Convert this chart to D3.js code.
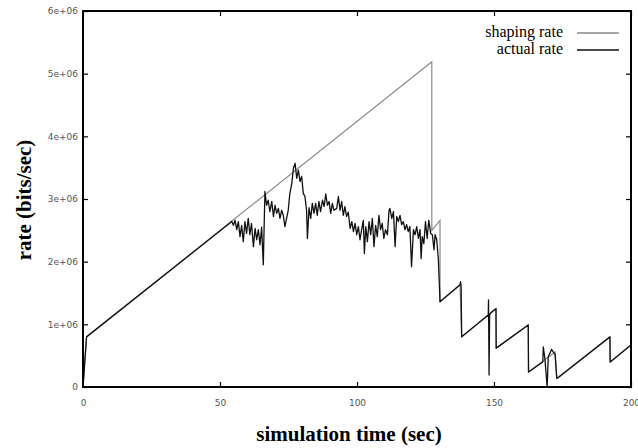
<!DOCTYPE html>
<html>
<head>
<meta charset="utf-8">
<script src="https://cdn.jsdelivr.net/npm/d3@7"></script>
<style>
  body { margin: 0; background: #fff; }
  svg { display: block; }
</style>
</head>
<body>
<div id="chart"></div>
<script>
// tick values and labels
const xTicks = [0, 50, 100, 150, 200];
const xTickLabels = ["0", "50", "100", "150", "200"];
const yTicks = [0, 1e6, 2e6, 3e6, 4e6, 5e6, 6e6];
const yTickLabels = ["0", "1e+06", "2e+06", "3e+06", "4e+06", "5e+06", "6e+06"];

// shaping rate (time in sec, rate in Mbit/s)
const shapingTime = [0, 1.3, 127.3, 127.3, 130.3, 130.3, 137.6, 138.2, 147.9, 150.8, 150.8, 162.5, 162.6, 172.3, 172.9, 192.3, 192.4, 200];
const shapingRate = [0, 0.8, 5.19, 2.50, 2.66, 1.36, 1.63, 0.80, 1.15, 1.25, 0.62, 0.99, 0.24, 0.56, 0.14, 0.80, 0.40, 0.67];

// actual rate
const actualTime = [0, 1.3, 54.3, 54.9, 55.5, 56.1, 56.7, 57.3, 57.9, 58.5, 59.1, 59.7, 60.3, 60.9, 61.5, 62.2, 62.8, 63.4, 64.0, 64.6, 65.2, 65.8,
  66.4, 67.0, 67.6, 68.2, 68.9, 69.5, 70.1, 70.7, 71.3, 71.9, 72.5, 73.1, 73.7, 74.3, 74.9, 75.5, 76.2, 76.8, 77.4, 78.0, 78.6, 79.2, 79.8,
  80.4, 81.0, 81.6, 81.9, 82.5, 83.1, 83.7, 84.3, 84.9, 85.5, 86.1, 86.7, 87.4, 88.0, 88.6, 89.2, 89.8, 90.4, 91.0, 91.6, 92.6, 93.2, 93.8,
  94.4, 95.0, 95.6, 96.2, 96.8, 97.5, 98.1, 98.7, 99.3, 99.9, 100.5, 101.1, 101.7, 102.3, 102.7, 103.2, 103.8, 104.4, 105.0, 105.6, 106.2,
  106.8, 107.4, 108.0, 108.6, 109.2, 109.8, 110.4, 111.1, 111.7, 112.0, 112.7, 113.3, 113.9, 114.5, 115.1, 115.7, 116.3, 116.9, 117.5, 118.1,
  118.7, 119.3, 119.9, 120.6, 121.2, 121.8, 122.4, 123.0, 123.4, 123.8, 124.4, 125.0, 125.6, 126.2, 126.9, 127.5, 128.1, 128.5, 129.1, 129.7,
  130.3, 137.6, 137.8, 138.0, 138.2, 147.9, 148.0, 148.2, 148.4, 148.8, 149.8, 150.7, 150.8, 162.5, 162.6, 167.8, 168.0, 168.6, 169.4, 169.8,
  171.0, 171.6, 172.3, 172.9, 173.5, 192.3, 192.4, 200];
const actualRate = [0, 0.8, 2.64, 2.58, 2.66, 2.51, 2.64, 2.40, 2.58, 2.32, 2.64, 2.45, 2.69, 2.43, 2.61, 2.24, 2.53, 2.35, 2.51, 2.27, 2.55, 1.95,
  3.12, 2.90, 2.98, 2.80, 2.96, 2.72, 2.90, 2.77, 2.85, 2.69, 2.82, 2.74, 2.56, 2.69, 2.82, 3.09, 3.25, 3.49, 3.57, 3.33, 3.46, 3.28, 3.36,
  3.09, 3.04, 2.82, 2.37, 2.86, 2.69, 2.93, 2.77, 2.93, 2.74, 2.96, 2.80, 2.98, 2.88, 3.08, 2.90, 2.96, 2.77, 2.93, 2.82, 2.85, 3.04, 2.82,
  2.96, 2.74, 2.88, 2.72, 2.79, 2.53, 2.64, 2.48, 2.61, 2.43, 2.56, 2.35, 2.51, 2.66, 2.13, 2.56, 2.32, 2.64, 2.43, 2.69, 2.24,
  2.58, 2.40, 2.74, 2.51, 2.61, 2.37, 2.51, 2.43, 2.82, 2.85, 2.69, 2.80, 2.24, 2.72, 2.64, 2.74, 2.59, 2.64, 2.51, 2.59,
  2.48, 2.56, 1.92, 2.51, 2.43, 2.56, 2.37, 2.51, 2.05, 2.40, 2.29, 2.64, 2.37, 2.66, 2.45, 2.43, 2.19, 2.43, 2.35, 2.03,
  1.36, 1.63, 1.68, 1.60, 0.80, 1.15, 1.39, 0.19, 1.15, 1.18, 1.22, 1.25, 0.62, 0.99, 0.24, 0.40, 0.64, 0.44, 0.00, 0.48,
  0.60, 0.56, 0.52, 0.14, 0.15, 0.80, 0.40, 0.67];

const svgWidth = 638;
const svgHeight = 448;
const margin = { top: 11, right: 7, bottom: 61, left: 83 };
const width = svgWidth - margin.left - margin.right;
const height = svgHeight - margin.top - margin.bottom;

const svg = d3.select("#chart")
  .append("svg")
  .attr("width", svgWidth)
  .attr("height", svgHeight);

const chartGroup = svg.append("g")
  .attr("transform", `translate(${margin.left},${margin.top})`);

const xScale = d3.scaleLinear().domain([0, 200]).range([0, width]);
const yScale = d3.scaleLinear().domain([0, 6e6]).range([height, 0]);

// axes with inward ticks, labels on left / bottom
const bottomAxis = d3.axisBottom(xScale)
  .tickValues(xTicks)
  .tickFormat((d, i) => xTickLabels[i])
  .tickSizeInner(-5).tickSizeOuter(0).tickPadding(13);
const leftAxis = d3.axisLeft(yScale)
  .tickValues(yTicks)
  .tickFormat((d, i) => yTickLabels[i])
  .tickSizeInner(-5).tickSizeOuter(0).tickPadding(5);
const topAxis = d3.axisTop(xScale).tickValues(xTicks).tickFormat("").tickSizeInner(-5).tickSizeOuter(0);
const rightAxis = d3.axisRight(yScale).tickValues(yTicks).tickFormat("").tickSizeInner(-5).tickSizeOuter(0);

const axes = [
  chartGroup.append("g").attr("transform", `translate(0,${height})`).call(bottomAxis),
  chartGroup.append("g").call(leftAxis),
  chartGroup.append("g").call(topAxis),
  chartGroup.append("g").attr("transform", `translate(${width},0)`).call(rightAxis)
];
axes.forEach(a => {
  a.select(".domain").remove();
  a.selectAll(".tick line").attr("stroke", "#000").attr("stroke-width", 1.2);
  a.selectAll(".tick text")
    .attr("fill", "#555")
    .style("font-family", "'DejaVu Sans', sans-serif")
    .style("font-size", "9px");
});

// lines
const line = d3.line()
  .x(d => xScale(d[0]))
  .y(d => yScale(d[1] * 1e6));

const shapingData = shapingTime.map((t, i) => [t, shapingRate[i]]);
const actualData = actualTime.map((t, i) => [t, actualRate[i]]);

chartGroup.append("path")
  .datum(shapingData)
  .attr("fill", "none")
  .attr("stroke", "#8a8a8a")
  .attr("stroke-width", 1.2)
  .attr("d", line);

chartGroup.append("path")
  .datum(actualData)
  .attr("fill", "none")
  .attr("stroke", "#111")
  .attr("stroke-width", 1.3)
  .attr("stroke-linejoin", "round")
  .attr("d", line);

// frame
chartGroup.append("rect")
  .attr("x", 0).attr("y", 0)
  .attr("width", width).attr("height", height)
  .attr("fill", "none")
  .attr("stroke", "#000")
  .attr("stroke-width", 2);

// legend
const legend = chartGroup.append("g")
  .attr("transform", `translate(${width - 54},0)`);
const legendItems = [
  { label: "shaping rate", color: "#8a8a8a", y: 22 },
  { label: "actual rate", color: "#111", y: 39 }
];
legendItems.forEach(item => {
  legend.append("text")
    .attr("x", -14)
    .attr("y", item.y + 4)
    .attr("text-anchor", "end")
    .style("font-family", "'Liberation Serif', serif")
    .style("font-size", "16px")
    .text(item.label);
  legend.append("line")
    .attr("x1", 0).attr("x2", 42)
    .attr("y1", item.y).attr("y2", item.y)
    .attr("stroke", item.color)
    .attr("stroke-width", 1.5);
});

// axis titles
svg.append("text")
  .attr("transform", `translate(31,200) rotate(-90)`)
  .attr("text-anchor", "middle")
  .style("font-family", "'Liberation Serif', serif")
  .style("font-size", "21px")
  .style("font-weight", "bold")
  .text("rate (bits/sec)");

svg.append("text")
  .attr("x", 349)
  .attr("y", 441)
  .attr("text-anchor", "middle")
  .style("font-family", "'Liberation Serif', serif")
  .style("font-size", "21px")
  .style("font-weight", "bold")
  .text("simulation time (sec)");
</script>
</body>
</html>
